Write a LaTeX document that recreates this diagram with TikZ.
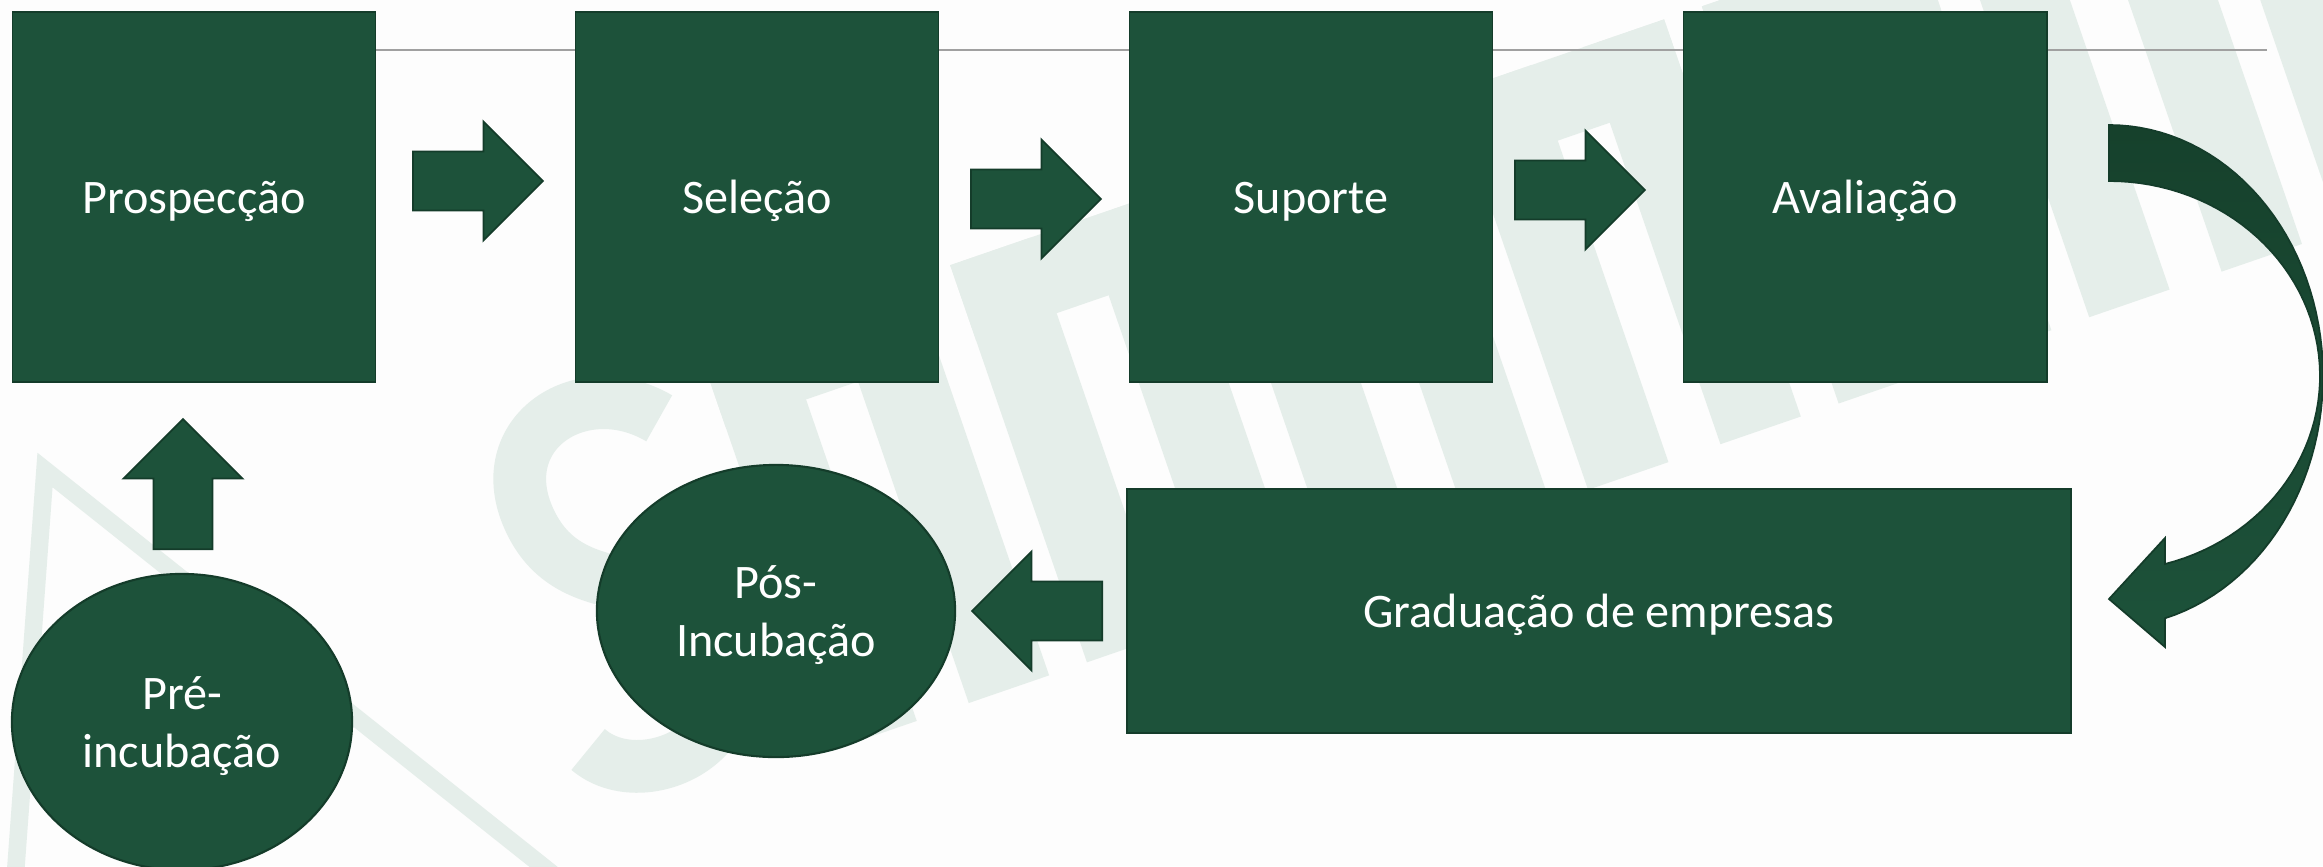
\documentclass[tikz,border=0pt]{standalone}
\usepackage{fontspec}
\setmainfont{Carlito}
\usetikzlibrary{shapes.geometric, shapes.arrows}

\definecolor{boxgreen}{RGB}{29,82,58}
\definecolor{edgegreen}{RGB}{20,60,42}
\definecolor{darkgreen}{RGB}{22,65,44}
\definecolor{markgray}{RGB}{229,238,234}
\definecolor{rulegray}{RGB}{160,160,160}
\definecolor{paper}{RGB}{253,253,253}

\begin{document}
\begin{tikzpicture}[
    x=0.01cm, y=-0.01cm,
    stage_font/.style={text=white, font=\fontsize{13.7}{16.5}\selectfont},
    stage_box/.style={rectangle, fill=boxgreen, draw=edgegreen, line width=0.5pt, stage_font,
        inner sep=0pt, text height=0.45cm, text depth=0.13cm,
        minimum width=3.63cm, minimum height=3.70cm},
    stage_oval/.style={ellipse, fill=boxgreen, draw=edgegreen, line width=0.6pt, inner sep=0pt},
    oval_text/.style={stage_font, align=center, yshift=-0.045cm},
    block_arrow/.style={single arrow, fill=boxgreen, draw=edgegreen, line width=0.5pt,
        single arrow tip angle=90, single arrow head extend=0.30cm,
        inner xsep=0pt, inner ysep=0.285cm, minimum height=1.30cm, anchor=tail},
    wm_stroke/.style={draw=markgray, line width=5pt},
    wm_fill/.style={fill=markgray}
]

    % --- canvas ---
    \useasboundingbox (0,0) rectangle (2323,866);
    \fill[paper] (0,0) rectangle (2323,866);

    % --- faint logo in the background ---
    \draw[wm_stroke] (15,880) -- (45,470) -- (560,880);
    \begin{scope}[shift={(600,830)}, rotate=19]
        \draw[draw=markgray, line width=15pt]
            (190,-370) .. controls (130,-440) and (20,-410) .. (35,-310)
            .. controls (50,-210) and (175,-230) .. (175,-130)
            .. controls (175,-30) and (50,-20) .. (15,-80);
        \foreach \a in {250,515,780,1045,1310,1575,1840} {
            \fill[wm_fill] (\a,-420) rectangle ++(85,420);
            \fill[wm_fill] (\a+140,-420) rectangle ++(85,420);
            \fill[wm_fill] (\a,-420) rectangle ++(225,80);
        }
    \end{scope}

    % --- rule behind the top row ---
    \coordinate (rule_start) at (376,50);
    \coordinate (rule_end) at (2267,50);
    \draw[rulegray, line width=0.6pt] (rule_start) -- (rule_end);

    % --- top row ---
    \node[stage_box] (prospeccao) at (194,197) {Prospecção};
    \node[stage_box] (selecao) at (757,197) {Seleção};
    \node[stage_box] (suporte) at (1311,197) {Suporte};
    \node[stage_box] (avaliacao) at (1865,197) {Avaliação};

    \node[block_arrow] (arr_a) at (412,181) {};
    \node[block_arrow] (arr_b) at (970,199) {};
    \node[block_arrow] (arr_c) at (1514,190) {};

    % --- bottom row ---
    \node[stage_box, minimum width=9.44cm, minimum height=2.44cm] (graduacao) at (1599,611) {Graduação de empresas};
    \node[stage_oval, minimum width=3.58cm, minimum height=2.92cm] (pos) at (776,611) {};
    \node[oval_text] (pos_text) at (pos.center) {Pós-\\Incubação};
    \node[stage_oval, minimum width=3.40cm, minimum height=2.96cm] (pre) at (182,722) {};
    \node[oval_text] (pre_text) at (pre.center) {Pré-\\incubação};

    \node[block_arrow, shape border rotate=180] (arr_d) at (1103,611) {};
    \node[block_arrow, shape border rotate=90, inner xsep=0.285cm, inner ysep=0pt] (arr_e) at (183,550) {};

    % --- curved arrow from Avaliação down to Graduação ---
    \shadedraw[top color=darkgreen, bottom color=boxgreen, draw=edgegreen, line width=0.5pt]
        plot[domain=90:-74.8, samples=60, variable=\t] ({2109+214*cos(\t)}, {376-251*sin(\t)})
        -- (2165,647) -- (2109,599) -- (2165,538) -- (2165,562)
        -- plot[domain=-74.6:90, samples=60, variable=\t] ({2109+211*cos(\t)}, {376-195*sin(\t)})
        -- cycle;

\end{tikzpicture}
\end{document}
